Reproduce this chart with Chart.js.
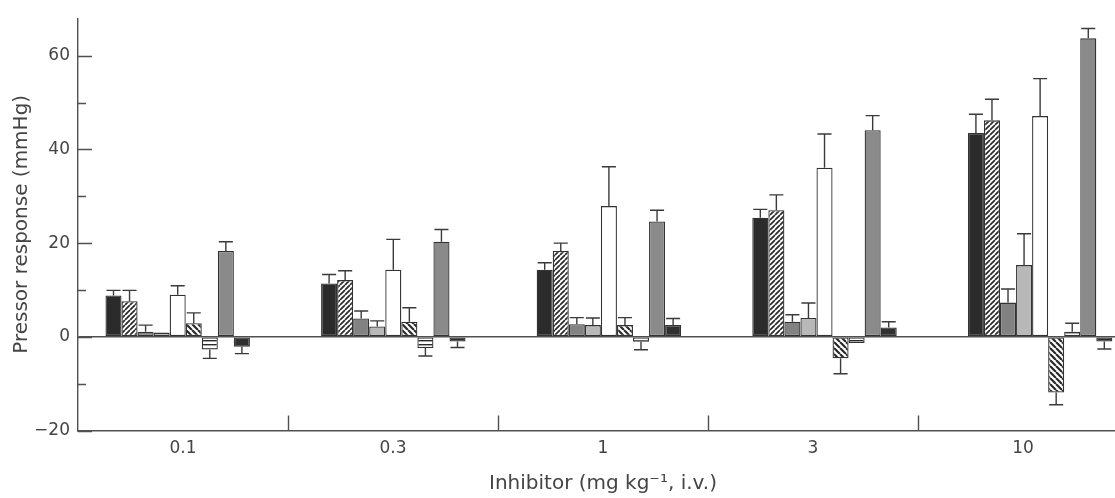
<!DOCTYPE html>
<html><head><meta charset="utf-8">
<script src="https://cdn.jsdelivr.net/npm/chart.js@4/dist/chart.umd.min.js"></script>
<style>
html,body{margin:0;padding:0;background:#fff;overflow:hidden;}
#wrap{width:1128px;height:498px;position:relative;}
</style></head><body>
<div id="wrap"><canvas id="c"></canvas></div>
<script>
// ---- data ----
const categories = ['0.1', '0.3', '1', '3', '10'];
const s1 = [8.8, 11.4, 14.3, 25.4, 43.5];   const s1Err = [1.1, 1.9, 1.5, 1.8, 4.0];
const s2 = [7.6, 12.1, 18.3, 27.0, 46.2];   const s2Err = [2.3, 2.0, 1.7, 3.3, 4.5];
const s3 = [1.1, 3.9, 2.7, 3.2, 7.3];       const s3Err = [1.4, 1.6, 1.4, 1.5, 2.9];
const s4 = [0.9, 2.2, 2.5, 4.0, 15.3];      const s4Err = [0, 1.2, 1.5, 3.2, 6.7];
const s5 = [9.0, 14.3, 27.9, 36.1, 47.1];   const s5Err = [1.9, 6.5, 8.4, 7.2, 8.0];
const s6 = [2.9, 3.2, 2.5, -4.6, -11.9];    const s6Err = [2.2, 3.0, 1.6, 3.3, 2.6];
const s7 = [-2.7, -2.4, -1.05, -1.3, 1.1];  const s7Err = [1.9, 1.7, 1.7, 0, 1.8];
const s8 = [18.3, 20.3, 24.6, 44.1, 63.7];  const s8Err = [2.0, 2.6, 2.4, 3.1, 2.1];
const s9 = [-2.1, -1.0, 2.5, 2.0, -1.0];    const s9Err = [1.5, 1.3, 1.4, 1.2, 1.6];
const yMin = -20, yMax = 68;
const yTickValues = [-20, -10, 0, 10, 20, 30, 40, 50, 60];
const yLabelValues = [-20, 0, 20, 40, 60];
const barAxisMin = -0.4624, barAxisMax = 4.4076;

// ---- styles ----
const FONT = 'DejaVu Sans';
const TXT = '#444444';
const LINE = '#505050';

function hatch(p, dir, lw) {
  const c = document.createElement('canvas'); c.width = p; c.height = p;
  const g = c.getContext('2d');
  g.fillStyle = '#fff'; g.fillRect(0, 0, p, p);
  g.strokeStyle = '#2a2a2a'; g.lineWidth = lw; g.beginPath();
  for (let k = -1; k <= 1; k++) {
    if (dir === '/') { g.moveTo(k * p, p); g.lineTo(k * p + p, 0); }
    else { g.moveTo(k * p, 0); g.lineTo(k * p + p, p); }
  }
  g.stroke();
  return g.createPattern(c, 'repeat');
}
function hstripes(p, lw) {
  const c = document.createElement('canvas'); c.width = p; c.height = p;
  const g = c.getContext('2d');
  g.fillStyle = '#fff'; g.fillRect(0, 0, p, p);
  g.fillStyle = '#2a2a2a'; g.fillRect(0, 0, p, lw);
  return g.createPattern(c, 'repeat');
}

const seriesList = [
  [s1, s1Err, '#2b2b2b'],
  [s2, s2Err, hatch(5, '/', 1.7)],
  [s3, s3Err, '#828282'],
  [s4, s4Err, '#b8b8b8'],
  [s5, s5Err, '#ffffff'],
  [s6, s6Err, hatch(6, '\\', 2.2)],
  [s7, s7Err, hstripes(4, 1.4)],
  [s8, s8Err, '#8a8a8a'],
  [s9, s9Err, '#303030']
];

const datasets = seriesList.map(([vals, errs, fill], k) => ({
  label: 'S' + (k + 1),
  data: vals.map((v, i) => ({ x: i, y: v })),
  errors: errs,
  xAxisID: 'xb',
  yAxisID: 'y',
  backgroundColor: fill,
  borderColor: '#333',
  borderWidth: 1.3,
  borderSkipped: false,
  categoryPercentage: 0.67,
  barPercentage: 1.0
}));

const errorBars = {
  id: 'errorBars',
  afterDatasetsDraw(chart) {
    const ctx = chart.ctx, y = chart.scales.y;
    ctx.save(); ctx.strokeStyle = '#3a3a3a'; ctx.lineWidth = 1.4;
    chart.data.datasets.forEach((ds, di) => {
      const meta = chart.getDatasetMeta(di);
      meta.data.forEach((bar, i) => {
        const v = ds.data[i].y, e = ds.errors[i];
        if (!e) return;
        const sgn = v >= 0 ? 1 : -1;
        const y0 = y.getPixelForValue(v), y1 = y.getPixelForValue(v + sgn * e);
        const hw = bar.width / 2 - 1;
        ctx.beginPath();
        ctx.moveTo(bar.x, y0); ctx.lineTo(bar.x, y1);
        ctx.moveTo(bar.x - hw, y1); ctx.lineTo(bar.x + hw, y1);
        ctx.stroke();
      });
    });
    ctx.restore();
  }
};

const axisMarks = {
  id: 'axisMarks',
  afterDatasetsDraw(chart) {
    const { ctx, chartArea } = chart, y = chart.scales.y, x = chart.scales.x;
    ctx.save(); ctx.strokeStyle = LINE; ctx.lineWidth = 1.4;
    ctx.beginPath();
    yTickValues.forEach(v => {
      const py = Math.round(y.getPixelForValue(v)) + 0.5;
      const len = yLabelValues.includes(v) ? 14 : 8;
      ctx.moveTo(chartArea.left, py); ctx.lineTo(chartArea.left + len, py);
    });
    for (let i = 1; i < categories.length; i++) {
      const px = Math.round((x.getPixelForValue(i - 1) + x.getPixelForValue(i)) / 2) + 0.5;
      ctx.moveTo(px, chartArea.bottom); ctx.lineTo(px, chartArea.bottom - 15);
    }
    ctx.stroke();
    ctx.restore();
  }
};

new Chart(document.getElementById('c'), {
  type: 'bar',
  data: { labels: categories, datasets },
  plugins: [errorBars, axisMarks],
  options: {
    responsive: true, maintainAspectRatio: false, animation: false, devicePixelRatio: 1,
    layout: { padding: { top: 14, left: 0, right: 0, bottom: 0 } },
    plugins: { legend: { display: false }, tooltip: { enabled: false } },
    scales: {
      x: {
        type: 'category', offset: true,
        grid: { display: true, drawOnChartArea: false, drawTicks: false, offset: true },
        border: { display: true, color: LINE, width: 1.4 },
        ticks: { padding: 8, color: TXT, font: { family: FONT, size: 17 }, autoSkip: false, maxRotation: 0 },
        title: { display: true, text: 'Inhibitor (mg kg\u207B\u00B9, i.v.)', color: TXT, font: { family: FONT, size: 20 }, padding: { top: 0, bottom: 2 } },
        afterFit(scale) { scale.height = 67.5; }
      },
      xb: {
        type: 'linear', display: false, offset: false,
        min: barAxisMin, max: barAxisMax,
        ticks: { stepSize: 1, includeBounds: false }
      },
      y: {
        min: yMin, max: yMax,
        grid: { drawTicks: false, lineWidth: 1.4, color: c => (c.tick && c.tick.value === 0) ? LINE : 'rgba(0,0,0,0)' },
        border: { display: true, color: LINE, width: 1.4 },
        ticks: {
          stepSize: 10, padding: 8, color: TXT, font: { family: FONT, size: 17 },
          autoSkip: false,
          callback: v => yLabelValues.includes(v) ? String(v).replace('-', '\u2212') : ''
        },
        title: { display: true, text: 'Pressor response (mmHg)', color: TXT, font: { family: FONT, size: 20 }, padding: { top: 10, bottom: 0 } },
        afterFit(scale) { scale.width = 78; }
      }
    }
  }
});
</script>
</body></html>
